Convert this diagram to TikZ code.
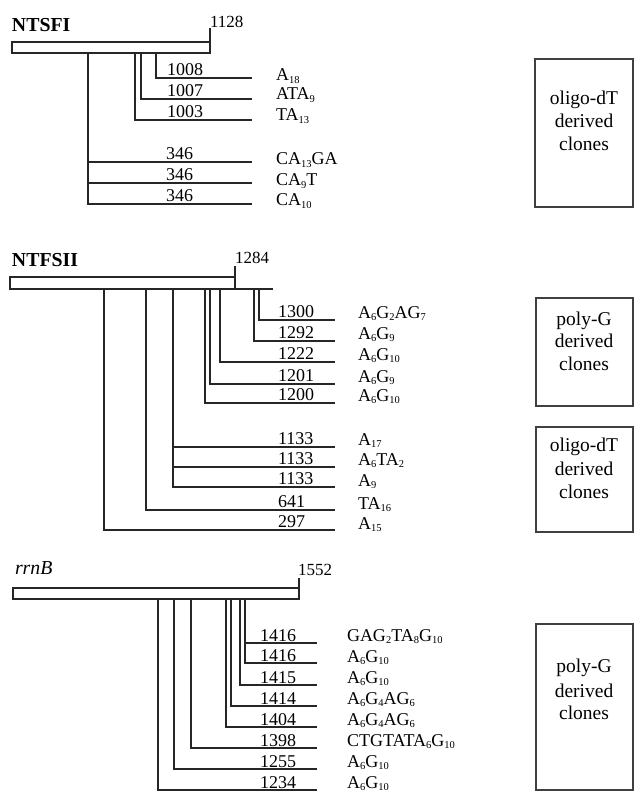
\documentclass[tikz,border=0pt]{standalone}
\usepackage{fontspec}
\setmainfont{Liberation Serif}
\newcommand\sbs[1]{\raisebox{-0.28ex}{\fontsize{10.5}{10.5}\selectfont #1}}
\begin{document}
\begin{tikzpicture}[x=1pt,y=-1pt,
  every node/.style={inner sep=0pt, outer sep=0pt},
  num/.style={anchor=base west, font=\fontsize{18}{18}\selectfont},
  seq/.style={anchor=base west, font=\fontsize{18}{18}\selectfont},
  len/.style={anchor=base west, font=\fontsize{17}{17}\selectfont},
  ttl/.style={anchor=base west, font=\fontsize{19.8}{19.8}\selectfont},
  bar/.style={draw=black!85, line width=1.2pt},
  tree/.style={draw=black!85, line width=1.2pt},
  box/.style={draw=black!75, line width=1.5pt},
  btxt/.style={anchor=base, font=\fontsize{19.5}{19.5}\selectfont}]
\useasboundingbox (0,0) rectangle (634,791);

% ---------------- NTSFI ----------------
\node[ttl] (t1) at (12,32) {\textbf{NTSFI}};
\node[len] (l1) at (210,28) {1128};
\draw[bar] (12,42) rectangle (210,53);
\draw[tree] (210,42) -- (210,28);
\draw[tree] (156,53) |- (252,78);
\draw[tree] (141,53) |- (252,99);
\draw[tree] (135,53) |- (252,120);
\draw[tree] (88,53) |- (252,204);
\draw[tree] (88,162) -- (252,162);
\draw[tree] (88,183) -- (252,183);
\node[num] (a1) at (167,76) {1008};
\node[num] (a2) at (167,97) {1007};
\node[num] (a3) at (167,118) {1003};
\node[num] (a4) at (166,160) {346};
\node[num] (a5) at (166,181) {346};
\node[num] (a6) at (166,202) {346};
\node[seq] (s1) at (276,81) {A\sbs{18}};
\node[seq] (s2) at (276,100) {ATA\sbs{9}};
\node[seq] (s3) at (276,121) {TA\sbs{13}};
\node[seq] (s4) at (276,165) {CA\sbs{13}GA};
\node[seq] (s5) at (276,186) {CA\sbs{9}T};
\node[seq] (s6) at (276,206) {CA\sbs{10}};
\draw[box] (535,59) rectangle (633,207);
\node[btxt] (b1a) at (584,105) {oligo-dT};
\node[btxt] (b1b) at (584,128) {derived};
\node[btxt] (b1c) at (584,151) {clones};

% ---------------- NTFSII ----------------
\node[ttl] (t2) at (12,266) {\textbf{NTFSII}};
\node[len] (l2) at (235,263) {1284};
\draw[bar] (10,277) rectangle (235,289);
\draw[tree] (235,277) -- (235,266);
\draw[tree] (235,289) -- (273,289);
\draw[tree] (259,289) |- (335,320);
\draw[tree] (254,289) |- (335,341);
\draw[tree] (220,289) |- (335,362);
\draw[tree] (210,289) |- (335,384);
\draw[tree] (205,289) |- (335,403);
\draw[tree] (173,289) |- (335,487);
\draw[tree] (173,447) -- (335,447);
\draw[tree] (173,467) -- (335,467);
\draw[tree] (146,289) |- (335,510);
\draw[tree] (104,289) |- (335,530);
\node[num] (c1) at (278,317) {1300};
\node[num] (c2) at (278,338) {1292};
\node[num] (c3) at (278,359) {1222};
\node[num] (c4) at (278,381) {1201};
\node[num] (c5) at (278,400) {1200};
\node[num] (c6) at (278,444) {1133};
\node[num] (c7) at (278,464) {1133};
\node[num] (c8) at (278,484) {1133};
\node[num] (c9) at (278,507) {641};
\node[num] (c10) at (278,527) {297};
\node[seq] (d1) at (358,318) {A\sbs{6}G\sbs{2}AG\sbs{7}};
\node[seq] (d2) at (358,339) {A\sbs{6}G\sbs{9}};
\node[seq] (d3) at (358,360) {A\sbs{6}G\sbs{10}};
\node[seq] (d4) at (358,382) {A\sbs{6}G\sbs{9}};
\node[seq] (d5) at (358,401) {A\sbs{6}G\sbs{10}};
\node[seq] (d6) at (358,445) {A\sbs{17}};
\node[seq] (d7) at (358,465) {A\sbs{6}TA\sbs{2}};
\node[seq] (d8) at (358,486) {A\sbs{9}};
\node[seq] (d9) at (358,509) {TA\sbs{16}};
\node[seq] (d10) at (358,529) {A\sbs{15}};
\draw[box] (536,298) rectangle (633,406);
\node[btxt] (b2a) at (584,325) {poly-G};
\node[btxt] (b2b) at (584,347) {derived};
\node[btxt] (b2c) at (584,370) {clones};
\draw[box] (536,427) rectangle (633,532);
\node[btxt] (b3a) at (584,451) {oligo-dT};
\node[btxt] (b3b) at (584,475) {derived};
\node[btxt] (b3c) at (584,498) {clones};

% ---------------- rrnB ----------------
\node[ttl] (t3) at (15,574) {\textit{rrnB}};
\node[len] (l3) at (298,575) {1552};
\draw[bar] (13,588) rectangle (299,599);
\draw[tree] (299,588) -- (299,578);
\draw[tree] (245,599) |- (317,663);
\draw[tree] (245,643) -- (317,643);
\draw[tree] (240,599) |- (317,685);
\draw[tree] (231,599) |- (317,706);
\draw[tree] (226,599) |- (317,727);
\draw[tree] (191,599) |- (317,748);
\draw[tree] (174,599) |- (317,769);
\draw[tree] (158,599) |- (317,790);
\node[num] (e1) at (260,641) {1416};
\node[num] (e2) at (260,661) {1416};
\node[num] (e3) at (260,683) {1415};
\node[num] (e4) at (260,704) {1414};
\node[num] (e5) at (260,725) {1404};
\node[num] (e6) at (260,746) {1398};
\node[num] (e7) at (260,767) {1255};
\node[num] (e8) at (260,788) {1234};
\node[seq] (f1) at (347,641) {GAG\sbs{2}TA\sbs{8}G\sbs{10}};
\node[seq] (f2) at (347,662) {A\sbs{6}G\sbs{10}};
\node[seq] (f3) at (347,683) {A\sbs{6}G\sbs{10}};
\node[seq] (f4) at (347,704) {A\sbs{6}G\sbs{4}AG\sbs{6}};
\node[seq] (f5) at (347,725) {A\sbs{6}G\sbs{4}AG\sbs{6}};
\node[seq] (f6) at (347,746) {CTGTATA\sbs{6}G\sbs{10}};
\node[seq] (f7) at (347,767) {A\sbs{6}G\sbs{10}};
\node[seq] (f8) at (347,788) {A\sbs{6}G\sbs{10}};
\draw[box] (536,624) rectangle (633,790);
\node[btxt] (b4a) at (584,672) {poly-G};
\node[btxt] (b4b) at (584,697) {derived};
\node[btxt] (b4c) at (584,719) {clones};
\end{tikzpicture}
\end{document}
